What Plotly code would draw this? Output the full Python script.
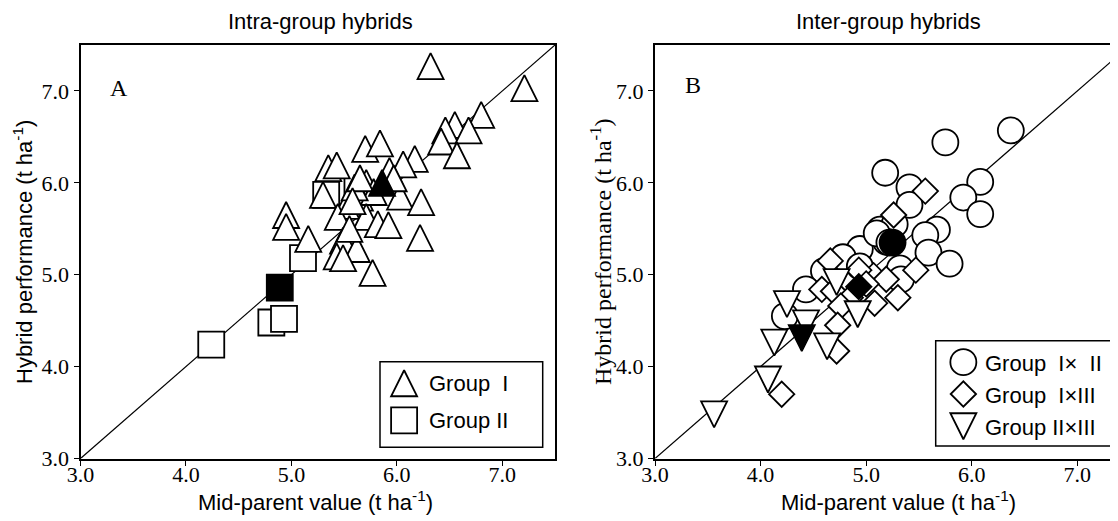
import plotly.graph_objects as go

# ---------------- data ----------------
# Panel A: intra-group hybrids (mid-parent value, hybrid performance)
g1_x = [6.32, 7.21, 6.80, 6.55, 6.46, 6.68, 6.42, 6.57, 6.17, 6.06, 5.70, 5.84, 5.35, 5.43,
        5.93, 5.71, 5.30, 6.03, 6.23, 5.52, 5.65, 5.78, 5.60, 5.44, 5.71, 5.82, 5.92, 4.95,
        4.95, 5.16, 6.22, 5.49, 5.62, 5.43, 5.49, 5.77, 5.55, 5.97, 5.65, 5.58]
g1_y = [7.27, 7.03, 6.74, 6.63, 6.57, 6.57, 6.45, 6.30, 6.26, 6.20, 6.37, 6.43, 6.16, 6.19,
        6.13, 6.00, 5.87, 5.85, 5.79, 5.75, 5.84, 5.90, 5.95, 5.63, 5.63, 5.55, 5.54, 5.65,
        5.52, 5.39, 5.40, 5.37, 5.28, 5.20, 5.18, 5.02, 5.50, 6.05, 6.05, 5.80]
g1_mean = ([5.86], [6.00])

g2_x = [5.38, 5.33, 5.11, 4.81, 4.93, 4.24]
g2_y = [5.91, 5.87, 5.18, 4.48, 4.52, 4.24]
g2_mean = ([4.89], [4.86])

# Panel B: inter-group hybrids
g12_x = [6.37, 5.75, 5.18, 6.08, 5.92, 6.08, 5.41, 5.41, 5.67, 5.56, 5.59, 5.79, 5.13, 5.27,
         5.19, 4.94, 4.78, 4.60, 4.43, 5.32, 5.33, 4.94, 4.23, 5.10, 5.22]
g12_y = [6.57, 6.44, 6.11, 6.01, 5.84, 5.66, 5.95, 5.76, 5.49, 5.43, 5.24, 5.12, 5.49, 5.55,
         5.36, 5.28, 5.19, 5.04, 4.84, 5.07, 4.95, 5.09, 4.55, 5.45, 5.35]
g12_mean = ([5.25], [5.35])

g13_x = [5.56, 5.26, 4.66, 4.58, 4.69, 4.85, 5.07, 5.19, 5.47, 5.30, 5.08, 4.76, 4.73, 4.72,
         4.20, 4.93, 5.00]
g13_y = [5.91, 5.65, 5.15, 4.84, 4.82, 4.75, 4.99, 4.95, 5.05, 4.75, 4.69, 4.66, 4.45, 4.17,
         3.70, 5.05, 4.90]
g13_mean = ([4.93], [4.87])

g23_x = [3.56, 4.07, 4.13, 4.25, 4.43, 4.63, 4.92, 4.72]
g23_y = [3.48, 3.86, 4.26, 4.68, 4.47, 4.22, 4.57, 4.92]
g23_mean = ([4.39], [4.31])

diag = [3.0, 7.5]
tick_vals = [3.0, 4.0, 5.0, 6.0, 7.0]
tick_text = ["3.0", "4.0", "5.0", "6.0", "7.0"]

# ---------------- styling ----------------
W, H = 1118, 521
OFF = 8          # page body margin offset of the plot div
SERIF = "Liberation Serif, Times New Roman, serif"
SANS = "Liberation Sans, Arial, sans-serif"
MS = 26          # marker size (px)
LW = 1.8         # marker outline width


def px_x(p):
    return (p - OFF) / W


def px_y(p):
    return 1 - (p - OFF) / H


def mk(symbol, fill, size=MS, tri=None):
    d = dict(symbol=symbol, size=size, color=fill, line=dict(color="black", width=LW))
    if tri == "up":
        d.update(symbol="arrow-down", angle=180, standoff=size / 2)
    elif tri == "down":
        d.update(symbol="arrow-down", angle=0, standoff=size / 2)
    return d


fig = go.Figure()

# Panel A
fig.add_trace(go.Scatter(x=diag, y=diag, mode="lines", line=dict(color="black", width=1.2),
                         xaxis="x", yaxis="y", hoverinfo="skip"))
fig.add_trace(go.Scatter(x=g2_x, y=g2_y, mode="markers", marker=mk("square", "white"),
                         xaxis="x", yaxis="y", cliponaxis=False))
fig.add_trace(go.Scatter(x=g1_x, y=g1_y, mode="markers", marker=mk(None, "white", tri="up"),
                         xaxis="x", yaxis="y", cliponaxis=False))
fig.add_trace(go.Scatter(x=g1_mean[0], y=g1_mean[1], mode="markers",
                         marker=mk(None, "black", tri="up"), xaxis="x", yaxis="y"))
fig.add_trace(go.Scatter(x=g2_mean[0], y=g2_mean[1], mode="markers",
                         marker=mk("square", "black"), xaxis="x", yaxis="y"))

# Panel B
fig.add_trace(go.Scatter(x=diag, y=diag, mode="lines", line=dict(color="black", width=1.2),
                         xaxis="x2", yaxis="y2", hoverinfo="skip"))
fig.add_trace(go.Scatter(x=g12_x, y=g12_y, mode="markers", marker=mk("circle", "white"),
                         xaxis="x2", yaxis="y2", cliponaxis=False))
fig.add_trace(go.Scatter(x=g13_x, y=g13_y, mode="markers", marker=mk("diamond", "white", size=19.5),
                         xaxis="x2", yaxis="y2", cliponaxis=False))
fig.add_trace(go.Scatter(x=g23_x, y=g23_y, mode="markers", marker=mk(None, "white", tri="down"),
                         xaxis="x2", yaxis="y2", cliponaxis=False))
fig.add_trace(go.Scatter(x=g12_mean[0], y=g12_mean[1], mode="markers",
                         marker=mk("circle", "black"), xaxis="x2", yaxis="y2"))
fig.add_trace(go.Scatter(x=g13_mean[0], y=g13_mean[1], mode="markers",
                         marker=mk("diamond", "black", size=19.5), xaxis="x2", yaxis="y2"))
fig.add_trace(go.Scatter(x=g23_mean[0], y=g23_mean[1], mode="markers",
                         marker=mk(None, "black", tri="down"), xaxis="x2", yaxis="y2"))

# Legend keys (on hidden 0..1 overlay axes)
fig.add_trace(go.Scatter(x=[0.682], y=[0.182], mode="markers", marker=mk(None, "white", tri="up"),
                         xaxis="x3", yaxis="y3", cliponaxis=False))
fig.add_trace(go.Scatter(x=[0.682], y=[0.092], mode="markers", marker=mk("square", "white"),
                         xaxis="x3", yaxis="y3", cliponaxis=False))
fig.add_trace(go.Scatter(x=[0.666], y=[0.233], mode="markers", marker=mk("circle", "white"),
                         xaxis="x4", yaxis="y4", cliponaxis=False))
fig.add_trace(go.Scatter(x=[0.666], y=[0.156], mode="markers", marker=mk("diamond", "white", size=19.5),
                         xaxis="x4", yaxis="y4", cliponaxis=False))
fig.add_trace(go.Scatter(x=[0.666], y=[0.078], mode="markers", marker=mk(None, "white", tri="down"),
                         xaxis="x4", yaxis="y4", cliponaxis=False))

domA = [px_x(80.5), px_x(555)]
domB = [px_x(655), px_x(1118)]
domY = [px_y(458.5), px_y(45)]

axis_common = dict(
    tickmode="array", tickvals=tick_vals, ticktext=tick_text,
    ticks="outside", ticklen=5, tickwidth=1, tickcolor="black",
    tickfont=dict(family=SERIF, size=22, color="black"),
    showgrid=False, zeroline=False, showline=True, linecolor="black",
    automargin=False,
)
xax = dict(axis_common, ticklabelstandoff=-10)
hidden = dict(range=[0, 1], visible=False, automargin=False, fixedrange=True)

fig.update_layout(
    width=W, height=H, margin=dict(l=0, r=0, t=0, b=0, pad=0, autoexpand=False),
    paper_bgcolor="white", plot_bgcolor="white", showlegend=False,
    xaxis=dict(xax, domain=domA, range=[3.0, 7.5], anchor="y", mirror=True, linewidth=2),
    yaxis=dict(axis_common, domain=domY, range=[3.0, 7.5], anchor="x", mirror=True, linewidth=2),
    xaxis2=dict(xax, domain=domB, range=[3.0, 7.385], anchor="y2", mirror=True, linewidth=2),
    yaxis2=dict(axis_common, domain=domY, range=[3.0, 7.5], anchor="x2", mirror=False, linewidth=2),
    xaxis3=dict(hidden, overlaying="x", anchor="y3"),
    yaxis3=dict(hidden, overlaying="y", anchor="x3"),
    xaxis4=dict(hidden, overlaying="x2", anchor="y4"),
    yaxis4=dict(hidden, overlaying="y2", anchor="x4"),
)

# legend boxes
fig.add_shape(type="rect", xref="paper", yref="paper",
              x0=px_x(380), x1=px_x(542.7), y0=px_y(447.3), y1=px_y(361.7),
              line=dict(color="black", width=1.5), fillcolor="rgba(0,0,0,0)", layer="above")
fig.add_shape(type="rect", xref="paper", yref="paper",
              x0=px_x(935.7), x1=px_x(1117.3), y0=px_y(446), y1=px_y(340.7),
              line=dict(color="black", width=1.5), fillcolor="rgba(0,0,0,0)", layer="above")

ann = []


def text(x, y, s, font, size, xanchor="center", angle=0):
    ann.append(dict(x=px_x(x), y=px_y(y), xref="paper", yref="paper", text=s, showarrow=False,
                    xanchor=xanchor, yanchor="middle", textangle=angle,
                    font=dict(family=font, size=size, color="black")))


NB = "\u00a0"
text(427, 383, "Group" + NB + NB + "I", SANS, 22, "left")
text(427, 420, "Group" + NB + "II", SANS, 22, "left")
text(983, 363, "Group" + NB + NB + "I\u00d7" + NB + NB + "II", SANS, 22, "left")
text(983, 395, "Group" + NB + NB + "I\u00d7III", SANS, 22, "left")
text(983, 427, "Group" + NB + "II\u00d7III", SANS, 22, "left")

text(119, 88, "A", SERIF, 24)
text(693, 85, "B", SERIF, 24)

text(320, 22, "Intra-group hybrids", SANS, 22)
text(888, 22, "Inter-group hybrids", SANS, 22)

text(316, 501, "Mid-parent value (t ha<sup>-1</sup>)", SANS, 22)
text(899, 501, "Mid-parent value (t ha<sup>-1</sup>)", SANS, 22)
text(23, 252, "Hybrid performance (t ha<sup>-1</sup>)", SANS, 22, angle=-90)
text(601, 252, "Hybrid performance (t ha<sup>-1</sup>)", SERIF, 24, angle=-90)

fig.update_layout(annotations=ann)

fig.write_html("out.html")
